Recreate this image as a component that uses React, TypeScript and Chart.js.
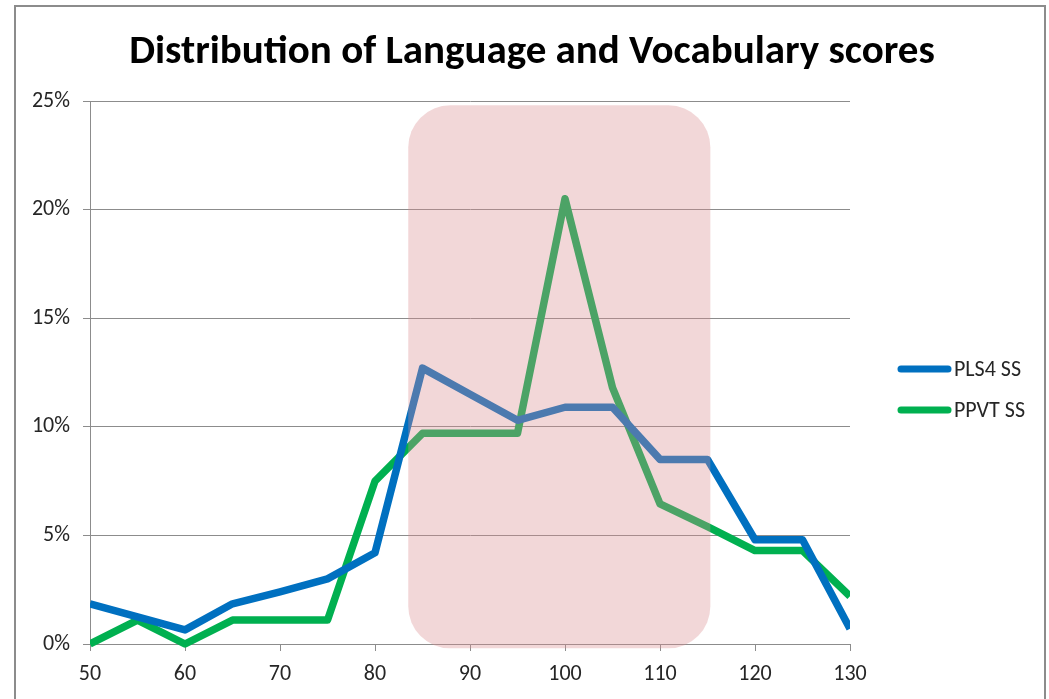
import { useEffect, useRef } from "react";
import { Chart, registerables } from "chart.js";

Chart.register(...registerables);

const scoreBins = [50, 55, 60, 65, 70, 75, 80, 85, 90, 95, 100, 105, 110, 115, 120, 125, 130];
const pls4Values = [1.85, 1.25, 0.65, 1.85, 2.4, 3.0, 4.2, 12.7, 11.5, 10.3, 10.9, 10.9, 8.5, 8.5, 4.8, 4.8, 0.7];
const ppvtValues = [0, 1.1, 0, 1.1, 1.1, 1.1, 7.5, 9.7, 9.7, 9.7, 20.5, 11.8, 6.45, 5.4, 4.3, 4.3, 2.2];
const seriesNames = ["PLS4 SS", "PPVT SS"];
const seriesColors = ["#0070C0", "#00B050"];
const titleText = "Distribution of Language and Vocabulary scores";
const highlightScoreRange = [83.5, 115.3];
const highlightPctRange = [-0.2, 24.8];

const FONT = 'Carlito, "Open Sans", sans-serif';

const framePlugin = {
  id: "frame",
  beforeDraw(chart: any) {
    const ctx = chart.ctx;
    ctx.save();
    ctx.fillStyle = "#ffffff";
    ctx.fillRect(0, 0, chart.width, chart.height);
    ctx.strokeStyle = "#8c8c8c";
    ctx.lineWidth = 2;
    ctx.strokeRect(15, 6, 1030, chart.height + 20);
    ctx.restore();
  },
  afterDraw(chart: any) {
    const ctx = chart.ctx;
    ctx.save();
    ctx.fillStyle = "#000000";
    ctx.font = `bold 41px ${FONT}`;
    ctx.textAlign = "center";
    ctx.textBaseline = "alphabetic";
    ctx.fillText(titleText, 532, 63);
    ctx.restore();
  },
};

const highlightPlugin = {
  id: "highlight",
  afterDatasetsDraw(chart: any) {
    const { ctx, scales } = chart;
    const x0 = scales.x.getPixelForValue(highlightScoreRange[0]);
    const x1 = scales.x.getPixelForValue(highlightScoreRange[1]);
    const y0 = scales.y.getPixelForValue(highlightPctRange[1]);
    const y1 = scales.y.getPixelForValue(highlightPctRange[0]);
    ctx.save();
    ctx.fillStyle = "rgba(217,140,143,0.35)";
    ctx.beginPath();
    (ctx as any).roundRect(x0, y0, x1 - x0, y1 - y0, 42);
    ctx.fill();
    ctx.restore();
  },
};

const legendPlugin = {
  id: "customLegend",
  afterDraw(chart: any) {
    const ctx = chart.ctx;
    const ds = chart.data.datasets;
    ctx.save();
    ds.forEach((d: any, i: number) => {
      const y = 369 + i * 41;
      ctx.strokeStyle = d.borderColor;
      ctx.lineWidth = 7;
      ctx.lineCap = "round";
      ctx.beginPath();
      ctx.moveTo(901, y);
      ctx.lineTo(948, y);
      ctx.stroke();
      ctx.fillStyle = "#262626";
      ctx.font = `22px ${FONT}`;
      ctx.textBaseline = "middle";
      ctx.textAlign = "left";
      ctx.fillText(d.label, 954, y + 1);
    });
    ctx.restore();
  },
};

export default function App() {
  const ref = useRef<HTMLCanvasElement | null>(null);
  useEffect(() => {
    if (!ref.current) return;
    const chart = new Chart(ref.current, {
      type: "line",
      data: {
        datasets: [pls4Values, ppvtValues].map((vals, i) => ({
          label: seriesNames[i],
          data: scoreBins.map((x, j) => ({ x, y: vals[j] })),
          borderColor: seriesColors[i],
          backgroundColor: seriesColors[i],
          borderWidth: 7.5,
          pointRadius: 0,
          tension: 0,
          borderJoinStyle: "round" as const,
          clip: { left: 0, right: 0, top: false, bottom: false } as any,
        })),
      },
      options: {
        animation: false,
        responsive: true,
        maintainAspectRatio: false,
        layout: { padding: { left: 0, right: 199, top: 101, bottom: 0 } },
        plugins: {
          legend: { display: false },
          tooltip: { enabled: false },
          title: { display: false },
        },
        scales: {
          x: {
            type: "linear",
            min: 50,
            max: 130,
            ticks: { stepSize: 10, color: "#262626", font: { family: FONT, size: 22 }, padding: 10 },
            grid: { drawOnChartArea: false, drawTicks: true, tickLength: 7, color: "#8c8c8c" },
            border: { color: "#8c8c8c", width: 1 },
            afterFit(scale: any) {
              scale.height = 55;
            },
          },
          y: {
            min: 0,
            max: 25,
            ticks: {
              stepSize: 5,
              color: "#262626",
              font: { family: FONT, size: 22 },
              padding: 13,
              callback: (v: any) => `${v}%`,
            },
            grid: { color: "#8c8c8c", tickLength: 7 },
            border: { color: "#8c8c8c", width: 1 },
            afterFit(scale: any) {
              scale.width = 90;
            },
          },
        },
      },
      plugins: [framePlugin, highlightPlugin, legendPlugin],
    });
    return () => chart.destroy();
  }, []);
  return (
    <div style={{ position: "fixed", left: 0, top: 0, width: 1049, height: 699 }}>
      <canvas ref={ref} />
    </div>
  );
}
